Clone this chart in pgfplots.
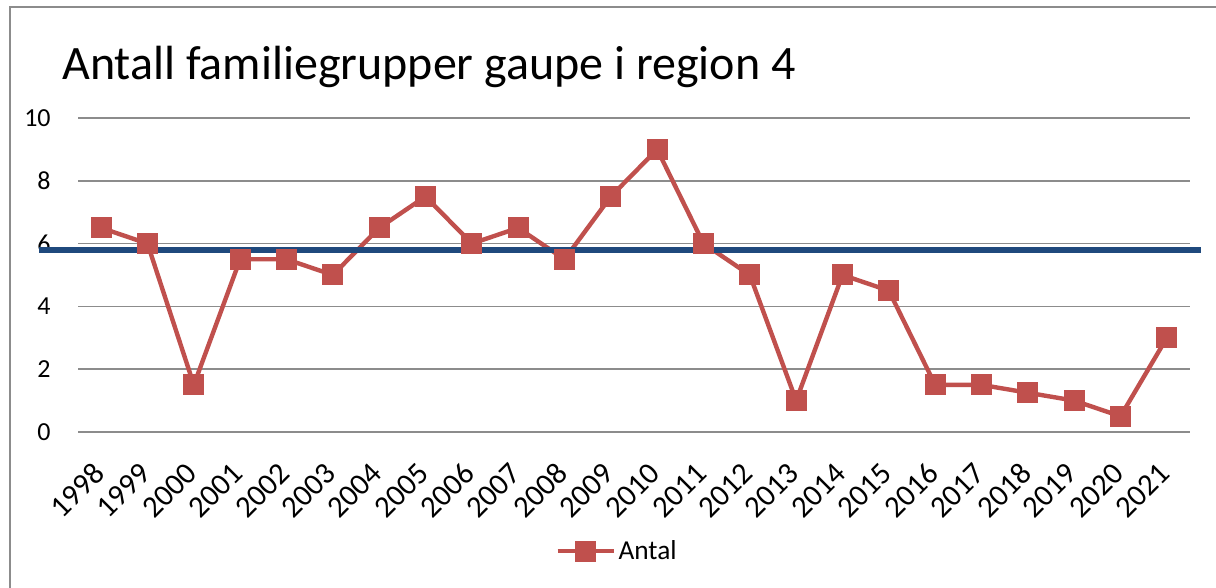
\documentclass[border=0pt]{standalone}
\usepackage{pgfplots}
\pgfplotsset{compat=1.18}
\usepackage{fontspec}
\setmainfont{Carlito}
\definecolor{redline}{HTML}{C0504D}
\definecolor{blueline}{HTML}{1F497D}
\definecolor{gridc}{HTML}{8C8C8C}
\begin{document}
\begin{tikzpicture}[x=0.75pt,y=0.75pt]
\path[use as bounding box] (0,0) rectangle (1216,588);
\draw[gridc,line width=1.5pt] (10,0) -- (10,581) -- (1216,581);
\node[anchor=base west,inner sep=0pt,font=\fontsize{36}{40}\selectfont] at (62,508) {Antall familiegrupper gaupe i region 4};
\begin{axis}[
  at={(58.5pt,117pt)}, anchor=south west,
  scale only axis, width=834pt, height=235.5pt,
  xmin=-0.5, xmax=23.5, ymin=0, ymax=10,
  ytick={0,2,4,6,8,10},
  xtick={0,...,23},
  xticklabels={1998,1999,2000,2001,2002,2003,2004,2005,2006,2007,2008,2009,2010,2011,2012,2013,2014,2015,2016,2017,2018,2019,2020,2021},
  xticklabel style={xshift=-1.5pt,yshift=-27pt,rotate=45,anchor=east,inner sep=0pt,font=\fontsize{23}{27}\selectfont},
  yticklabel style={xshift=-17pt,font=\fontsize{19.5}{23}\selectfont},
  /pgf/number format/assume math mode=true,
  axis line style={draw=none},
  major tick length=0pt,
  ymajorgrids, grid style={gridc,line width=1.2pt},
  clip=false,
  legend style={at={(0.485,-0.379)},anchor=center,draw=none,font=\fontsize{20.5}{24}\selectfont,inner sep=0pt},
  legend image code/.code={\draw[mark repeat=2,mark phase=2] plot coordinates {(0cm,0cm)(0.74cm,0cm)(1.48cm,0cm)};},
]
\addplot[redline,line width=3.3pt,mark=square*,mark size=7.5pt,mark options={solid,fill=redline,line width=0pt}] coordinates {
(0,6.5)(1,6)(2,1.5)(3,5.5)(4,5.5)(5,5)(6,6.5)(7,7.5)(8,6)(9,6.5)(10,5.5)(11,7.5)(12,9)(13,6)(14,5)(15,1)(16,5)(17,4.5)(18,1.5)(19,1.5)(20,1.25)(21,1)(22,0.5)(23,3)};
\addlegendentry{Antal}
\addplot[blueline,line width=4.2pt,forget plot] coordinates {(-1.35,5.8)(23.73,5.8)};
\end{axis}
\end{tikzpicture}
\end{document}
